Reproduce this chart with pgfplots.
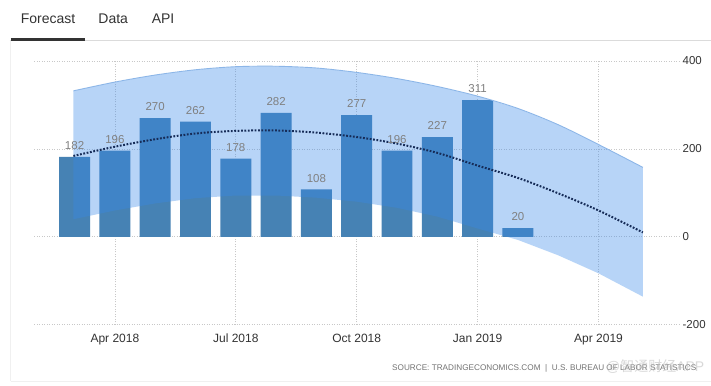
\documentclass[border=0pt]{standalone}
\usepackage{fontspec}
\setmainfont{Liberation Sans}
\newfontfamily\cjk{Noto Sans CJK SC}
\usepackage{pgfplots}
\pgfplotsset{compat=1.18}
\definecolor{barc}{RGB}{70,130,180}
\definecolor{bandc}{RGB}{56,136,233}
\definecolor{edgec}{RGB}{140,182,232}
\definecolor{trendc}{RGB}{22,44,88}
\definecolor{labelc}{RGB}{128,128,128}
\definecolor{gridc}{RGB}{200,200,200}
\definecolor{tabc}{RGB}{51,51,51}
\begin{document}
\begin{tikzpicture}
\path[fill=white] (0pt,0pt) rectangle (711pt,386pt);
% frame
\draw[color=black!6, line width=0.8pt] (10.7pt,4.3pt) -- (10.7pt,345.5pt);
\draw[color=black!6, line width=0.8pt] (10.7pt,4.3pt) -- (711pt,4.3pt);
\draw[color=black!14, line width=1pt] (10pt,345.5pt) -- (711pt,345.5pt);
\draw[color=tabc, line width=2.4pt] (11pt,346.5pt) -- (85pt,346.5pt);
% tabs
\node[anchor=base west, inner sep=0pt, font=\fontsize{14}{16}\selectfont, text=tabc] at (20.7pt,362pt) {Forecast};
\node[anchor=base west, inner sep=0pt, font=\fontsize{14}{16}\selectfont, text=tabc] at (98.3pt,362pt) {Data};
\node[anchor=base west, inner sep=0pt, font=\fontsize{14}{16}\selectfont, text=tabc] at (151.7pt,362pt) {API};
\begin{axis}[
  at={(34.3pt,61pt)}, anchor=south west,
  width=645.3pt, height=264pt, scale only axis,
  xmin=1, xmax=17, ymin=-200, ymax=400,
  /pgf/number format/assume math mode=true,
  axis line style={draw=none},
  major tick length=0pt,
  xtick={3,6,9,12,15},
  xticklabels={Apr 2018,Jul 2018,Oct 2018,Jan 2019,Apr 2019},
  ytick={-200,0,200,400},
  yticklabels={-200,0,200,400},
  yticklabel pos=right,
  yticklabel style={anchor=west, font=\fontsize{11.5}{13}\selectfont, text=tabc},
  xticklabel style={font=\fontsize{12}{14}\selectfont, text=tabc, yshift=-6pt},
  grid=major,
  major grid style={color=gridc, line width=0.7pt, dash pattern=on 1pt off 1.5pt},
]
\addplot[ybar, bar width=31pt, bar shift=0pt, fill=barc, draw=none,
  nodes near coords,
  nodes near coords style={font=\fontsize{11.5}{12}\selectfont, text=labelc, anchor=south, inner sep=0pt, yshift=7pt}]
  coordinates {(2,182) (3,196) (4,270) (5,262) (6,178) (7,282) (8,108) (9,277) (10,196) (11,227) (12,311) (13,20)};
\addplot[fill=bandc, fill opacity=0.36, draw=none] coordinates {
  (1.97,332) (3,352) (4,368) (5,380) (6,387) (7,388) (8,384) (9,374) (10,360) (11,342) (12,320) (13,292) (14,255) (15,210) (16.1,158)
  (16.1,-136) (15,-83) (14,-42) (13,-7) (12,19) (11,46) (10,66) (9,80) (8,89) (7,94) (6,94) (5,88) (4,76) (3,60) (1.97,40)} -- cycle;
\addplot[smooth, draw=edgec, line width=0.9pt] coordinates {
  (1.97,332) (3,352) (4,368) (5,380) (6,387) (7,388) (8,384) (9,374) (10,360) (11,342) (12,320) (13,292) (14,255) (15,210) (16.1,158)};
\addplot[smooth, color=trendc, line width=2pt, dash pattern=on 1.8pt off 1.6pt] coordinates {
  (1.97,184) (3,205) (4,222) (5,235) (6,241) (7,242) (8,237) (9,227) (10,212) (11,191) (12,162) (13,134) (14,99) (15,60) (16.1,10)};
\end{axis}
% source
\node[anchor=base east, inner sep=0pt, font=\fontsize{8.2}{9}\selectfont, text=black!55] at (697pt,15pt) {SOURCE: TRADINGECONOMICS.COM \ | \ U.S. BUREAU OF LABOR STATISTICS};
\node[anchor=base east, inner sep=0pt, font=\fontsize{14}{16}\selectfont, text=black!25, opacity=0.6] at (705pt,14pt) {@{\cjk 智通财经}APP};
\end{tikzpicture}
\end{document}
